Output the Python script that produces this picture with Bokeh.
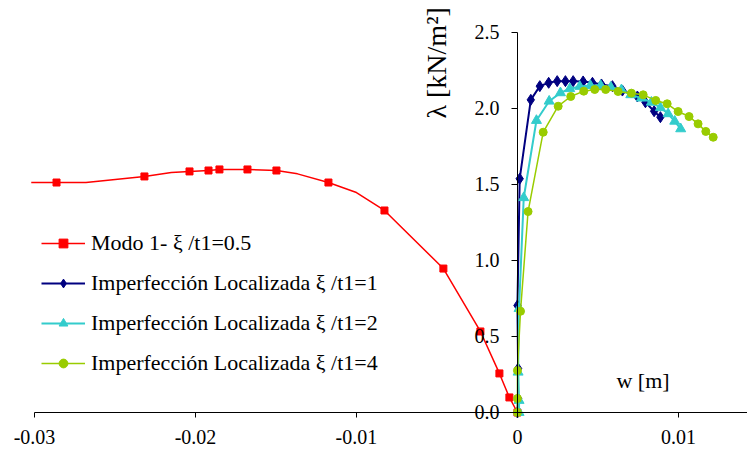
import math
from bokeh.plotting import figure
from bokeh.models import (Legend, LegendItem, Label, FixedTicker,
                          NumeralTickFormatter, Range1d, CustomJSTickFormatter)
from bokeh.embed import file_html
from bokeh.resources import INLINE

# ---- data ----
x_ticks = [-0.03, -0.02, -0.01, 0.0, 0.01]
x_tick_labels = ["-0.03", "-0.02", "-0.01", "0", "0.01"]
y_ticks = [0.0, 0.5, 1.0, 1.5, 2.0, 2.5]

# Modo 1 - xi/t1=0.5 (line path incl. unmarked points, and marked points)
modo_line_x = [-0.0302, -0.02863, -0.0268, -0.02317, -0.0215, -0.02037, -0.01919,
               -0.01851, -0.01677, -0.01497, -0.01366, -0.01174, -0.0100, -0.00826,
               -0.0046, -0.0023, -0.00112, -0.0005, 0.0]
modo_line_y = [1.513, 1.513, 1.513, 1.553, 1.579, 1.586, 1.592,
               1.599, 1.599, 1.592, 1.570, 1.513, 1.447, 1.329,
               0.947, 0.533, 0.257, 0.099, 0.0]
modo_mark_x = [-0.02863, -0.02317, -0.02037, -0.01919, -0.01851, -0.01677, -0.01497,
               -0.01174, -0.00826, -0.0046, -0.0023, -0.00112, -0.0005, 0.0]
modo_mark_y = [1.513, 1.553, 1.586, 1.592, 1.599, 1.599, 1.592,
               1.513, 1.329, 0.947, 0.533, 0.257, 0.099, 0.0]

# Imperfeccion localizada xi/t1=1
imp1_x = [0.0, 0.00004, 0.00004, 0.0, 0.00014, 0.00083, 0.00139, 0.00194, 0.00247,
          0.00298, 0.00346, 0.00408, 0.00466, 0.00522, 0.0059, 0.00652, 0.00745,
          0.00795, 0.00849, 0.00888]
imp1_y = [0.0, 0.092, 0.289, 0.704, 1.538, 2.057, 2.147, 2.169, 2.180,
          2.180, 2.180, 2.178, 2.169, 2.158, 2.147, 2.118, 2.079,
          2.041, 1.982, 1.943]

# Imperfeccion localizada xi/t1=2
imp2_x = [0.0001, 0.0001, 0.00004, 0.0001, 0.00039, 0.00118, 0.00197, 0.00267,
          0.00325, 0.00387, 0.00453, 0.00517, 0.0058, 0.00646, 0.00704, 0.0077,
          0.00832, 0.00888, 0.00936, 0.00977, 0.01014]
imp2_y = [0.0, 0.079, 0.265, 0.684, 1.413, 1.921, 2.048, 2.103,
          2.130, 2.145, 2.151, 2.151, 2.140, 2.123, 2.090, 2.068,
          2.041, 2.005, 1.965, 1.916, 1.866]

# Imperfeccion localizada xi/t1=4
imp4_x = [0.0, 0.0, 0.0, 0.00019, 0.00066, 0.0016, 0.00253, 0.00331, 0.00412,
          0.0048, 0.00548, 0.00625, 0.00708, 0.00781, 0.00859, 0.0093, 0.00998,
          0.01066, 0.01122, 0.0117, 0.01216]
imp4_y = [0.0, 0.092, 0.276, 0.666, 1.322, 1.844, 2.015, 2.079, 2.114,
          2.125, 2.125, 2.112, 2.101, 2.090, 2.053, 2.031, 1.980,
          1.947, 1.899, 1.849, 1.811]

labels = ["Modo 1- \u03be /t1=0.5",
          "Imperfecci\u00f3n Localizada \u03be /t1=1",
          "Imperfecci\u00f3n Localizada \u03be /t1=2",
          "Imperfecci\u00f3n Localizada \u03be /t1=4"]

FONT = "Liberation Serif"
RED, NAVY, CYAN, GREEN = "#FF0000", "#000080", "#33CCCC", "#99CC00"

X_START, X_END = -0.03211, 0.01429
Y_START, Y_END = -0.2632, 2.7105
p = figure(width=747, height=452, output_backend="svg", toolbar_location=None,
           x_range=Range1d(X_START, X_END), y_range=Range1d(Y_START, Y_END),
           min_border_left=0, min_border_right=0, min_border_top=0,
           min_border_bottom=0)
if p.title is not None:
    p.title.visible = False
p.outline_line_color = None
p.xgrid.visible = False
p.ygrid.visible = False
p.background_fill_color = "white"
p.border_fill_color = "white"

# x axis at y = 0
xa = p.xaxis[0]
xa.fixed_location = 0
xa.bounds = (-0.03, X_END)
xa.ticker = FixedTicker(ticks=x_ticks, minor_ticks=[])
xa.formatter = CustomJSTickFormatter(
    args=dict(vals=x_ticks, labs=x_tick_labels),
    code="""
    for (let i = 0; i < vals.length; i++) {
        if (Math.abs(tick - vals[i]) < 1e-9) { return labs[i]; }
    }
    return '';
    """)
xa.major_tick_in = 0
xa.major_tick_out = 5
xa.minor_tick_in = 0
xa.minor_tick_out = 0
xa.major_label_standoff = 13
xa.major_label_text_font = FONT
xa.major_label_text_font_size = "20px"
xa.major_label_text_color = "black"
xa.axis_line_color = "black"
xa.major_tick_line_color = "black"

# y axis at x = 0
ya = p.yaxis[0]
ya.fixed_location = 0
ya.bounds = (0, 2.5)
ya.ticker = FixedTicker(ticks=y_ticks, minor_ticks=[])
ya.formatter = NumeralTickFormatter(format="0.0")
ya.major_tick_in = 0
ya.major_tick_out = 6
ya.minor_tick_in = 0
ya.minor_tick_out = 0
ya.major_label_standoff = 12
ya.major_label_text_font = FONT
ya.major_label_text_font_size = "20px"
ya.major_label_text_color = "black"
ya.axis_line_color = "black"
ya.major_tick_line_color = "black"

# series
r0l = p.line(modo_line_x, modo_line_y, line_color=RED, line_width=1.5)
r0m = p.scatter(modo_mark_x, modo_mark_y, marker="square", size=7,
                fill_color=RED, line_color=RED)
r1l = p.line(imp1_x, imp1_y, line_color=NAVY, line_width=2)
r1m = p.scatter(imp1_x, imp1_y, marker="diamond", size=11,
                fill_color=NAVY, line_color=NAVY)
r2l = p.line(imp2_x, imp2_y, line_color=CYAN, line_width=2)
r2m = p.scatter(imp2_x, imp2_y, marker="triangle", size=10,
                fill_color=CYAN, line_color=CYAN)
r4l = p.line(imp4_x, imp4_y, line_color=GREEN, line_width=1.5)
r4m = p.scatter(imp4_x, imp4_y, marker="circle", size=8,
                fill_color=GREEN, line_color=GREEN)

legend = Legend(items=[LegendItem(label=labels[0], renderers=[r0l, r0m]),
                       LegendItem(label=labels[1], renderers=[r1l, r1m]),
                       LegendItem(label=labels[2], renderers=[r2l, r2m]),
                       LegendItem(label=labels[3], renderers=[r4l, r4m])],
                location=(41, 76), orientation="vertical",
                background_fill_alpha=0, border_line_alpha=0,
                padding=0, margin=0, spacing=14,
                glyph_width=44, glyph_height=22, label_height=22,
                label_standoff=6,
                label_text_font=FONT, label_text_font_size="22px",
                label_text_color="black")
p.add_layout(legend)

p.add_layout(Label(x=-0.00503, y=1.934, text="\u03bb [kN/m\u00b2]", angle=math.pi / 2,
                   text_align="left", text_baseline="middle",
                   text_font=FONT, text_font_size="28px", text_color="black"))
p.add_layout(Label(x=0.00615, y=0.21, text="w [m]",
                   text_align="left", text_baseline="middle",
                   text_font=FONT, text_font_size="22px", text_color="black"))

open("out.html", "w").write(file_html(p, INLINE))
